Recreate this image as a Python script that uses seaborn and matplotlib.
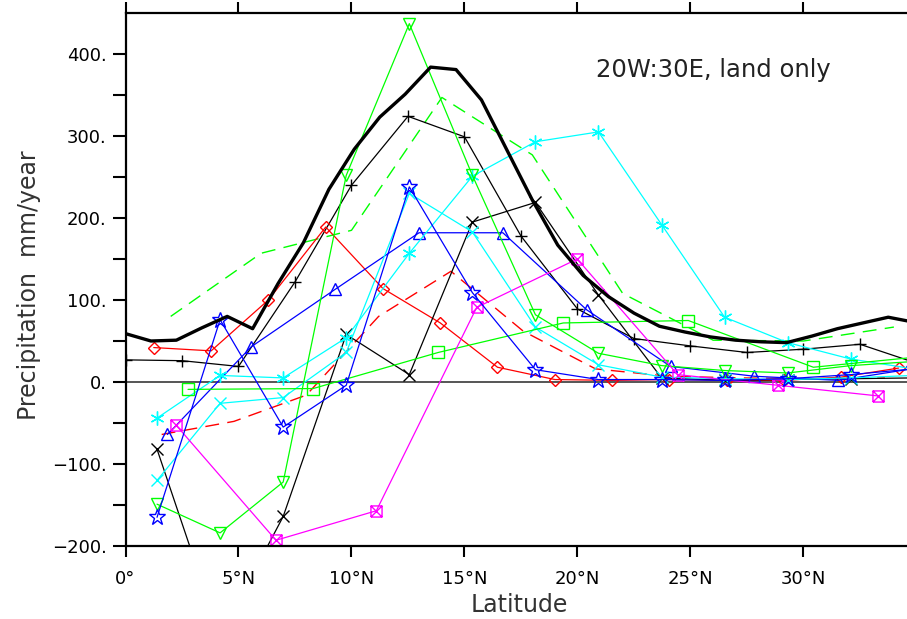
import matplotlib
matplotlib.use("Agg")
import matplotlib.pyplot as plt
from matplotlib.path import Path
import seaborn as sns

sns.set_theme(style="white")
plt.rcParams['font.family'] = ['DejaVu Sans']

# ---- observed reference curve (1.125 degree grid) ----
lat_obs = [0.0, 1.125, 2.25, 3.375, 4.5, 5.625, 6.75, 7.875, 9.0, 10.125, 11.25,
           12.375, 13.5, 14.625, 15.75, 16.875, 18.0, 19.125, 20.25, 21.375, 22.5,
           23.625, 24.75, 25.875, 27.0, 28.125, 29.25, 30.375, 31.5, 32.625, 33.75, 34.875]
pr_obs = [59, 50, 51, 66, 80, 65, 120, 170, 235, 284, 323, 351, 384, 381, 344, 283,
          222, 167, 130, 104, 84, 68, 61, 55, 51, 49, 48, 56, 65, 72, 79, 73]

# ---- dashed reference curves ----
lat_gdash = [2, 6, 10, 14, 18, 22, 26, 30, 34]
pr_gdash = [80, 157, 185, 347, 277, 108, 51, 50, 67]

lat_rdash = [1.6, 4.8, 8.0, 11.2, 14.4, 17.6, 20.8, 24.0, 27.2, 30.4, 33.6]
pr_rdash = [-64, -48, -16, 80, 135, 62, 16, 7, 5, 4, 5]

# ---- model grids ----
lat_25 = [0, 2.5, 5, 7.5, 10, 12.5, 15, 17.5, 20, 22.5, 25, 27.5, 30, 32.5, 35]
lat_diam = [1.25, 3.79, 6.32, 8.86, 11.39, 13.93, 16.46, 19.0, 21.53, 24.07,
            26.6, 29.14, 31.67, 34.21]
lat_t42 = [1.395, 4.186, 6.977, 9.767, 12.558, 15.348, 18.139, 20.929, 23.720,
           26.510, 29.301, 32.091, 34.882]
lat_t31 = [1.855, 5.566, 9.277, 12.988, 16.698, 20.408, 24.119, 27.829, 31.540, 35.250]
lat_t21 = [2.767, 8.301, 13.835, 19.369, 24.903, 30.437, 35.971]
lat_mag = [2.22, 6.66, 11.1, 15.54, 19.99, 24.43, 28.87, 33.31]

# ---- model precipitation changes ----
pr_plus = [27, 26, 19, 122, 240, 324, 299, 178, 89, 53, 44, 36, 40, 46, 23]
pr_diam = [42, 38, 100, 189, 114, 72, 18, 3, 2, 3, 2, 2, 6, 17]
pr_cross = [-82, -310, -164, 58, 9, 195, 219, 106, 5, 2, 3, 4, 5]
pr_star = [-165, 76, -55, -4, 238, 109, 15, 3, 3, 2, 4, 9, 16]
pr_tridown = [-149, -184, -122, 252, 437, 252, 82, 35, 20, 14, 11, 20, 25]
pr_aster = [-44, 8, 5, 54, 157, 251, 293, 305, 192, 79, 48, 28, 16]
pr_cyanx = [-120, -26, -19, 36, 230, 183, 67, 21, 6, 4, 3, 5, 8]
pr_triup = [-64, 43, 113, 182, 182, 88, 19, 7, 2, 18]
pr_square = [-9, -8, 36, 72, 75, 18, 33]
pr_boxx = [-52, -193, -157, 91, 150, 9, -4, -17]

yticks = [-200, -100, 0, 100, 200, 300, 400]
ytick_labels = ["\u2212200.", "\u2212100.", "0.", "100.", "200.", "300.", "400."]
xticks = [0, 5, 10, 15, 20, 25, 30]
xtick_labels = ["0\u00b0", "5\u00b0N", "10\u00b0N", "15\u00b0N", "20\u00b0N", "25\u00b0N", "30\u00b0N"]

# square with a cross inside
boxx = Path([(-1, -1), (1, -1), (1, 1), (-1, 1), (-1, -1),
             (-1, -1), (1, 1), (-1, 1), (1, -1)],
            [Path.MOVETO, Path.LINETO, Path.LINETO, Path.LINETO, Path.LINETO,
             Path.MOVETO, Path.LINETO, Path.MOVETO, Path.LINETO])

fig = plt.figure(figsize=(9.07, 6.19), dpi=100)
ax = fig.add_axes([125.5 / 907, 73 / 619, (907 - 125.5) / 907, 533 / 619])

ax.axhline(0, color="#555555", lw=1.4, zorder=1)

sns.lineplot(x=lat_obs, y=pr_obs, ax=ax, color="black", lw=2.4, zorder=3)
sns.lineplot(x=lat_gdash, y=pr_gdash, ax=ax, color="#00ff00", lw=1.0,
             linestyle=(0, (10, 6)), zorder=2)
sns.lineplot(x=lat_rdash, y=pr_rdash, ax=ax, color="#ff0000", lw=1.0,
             linestyle=(0, (10, 6)), zorder=2)

series = [
    (lat_25, pr_plus, "black", "+", 9),
    (lat_diam, pr_diam, "#ff0000", "D", 6),
    (lat_t42, pr_cross, "black", "x", 8),
    (lat_t31, pr_triup, "#0000ff", "^", 8),
    (lat_t42, pr_aster, "#00ffff", (6, 2, 0), 10),
    (lat_t42, pr_cyanx, "#00ffff", "x", 8),
    (lat_t42, pr_tridown, "#00ff00", "v", 8),
    (lat_t21, pr_square, "#00ff00", "s", 8),
    (lat_mag, pr_boxx, "#ff00ff", boxx, 8),
    (lat_t42, pr_star, "#0000ff", "*", 12),
]
for x, y, c, m, ms in series:
    sns.lineplot(x=x, y=y, ax=ax, color=c, lw=0.9, marker=m, ms=ms,
                 mfc="none", mec=c, mew=1.0, zorder=2)

ax.set_xlim(0, 34.58)
ax.set_ylim(-200, 450)

ax.set_xticks(xticks)
ax.set_xticklabels(xtick_labels)
ax.set_yticks(yticks)
ax.set_yticklabels(ytick_labels)
ax.set_yticks(list(range(-150, 450, 100)), minor=True)

ax.tick_params(axis="x", which="major", direction="out", length=8, width=1.5,
               top=True, bottom=True, labelsize=13, pad=9, color="black",
               labelcolor="black")
ax.tick_params(axis="y", which="both", direction="out", length=9.5, width=1.5,
               left=True, labelsize=13, pad=4, color="black", labelcolor="black")

for side in ["left", "bottom", "top"]:
    ax.spines[side].set_color("black")
    ax.spines[side].set_linewidth(1.6)
ax.spines["right"].set_visible(False)

ax.set_xlabel("Latitude", fontsize=17, color="#333333")
ax.xaxis.set_label_coords(0.504, -0.088)
ax.set_ylabel("Precipitation  mm/year", fontsize=17, color="#333333")
ax.yaxis.set_label_coords(-0.108, 0.49)

ax.text(20.82, 371.6, "20W:30E, land only", fontsize=17.5, color="#222222",
        ha="left", va="baseline")

fig.savefig("out.png", dpi=100)
